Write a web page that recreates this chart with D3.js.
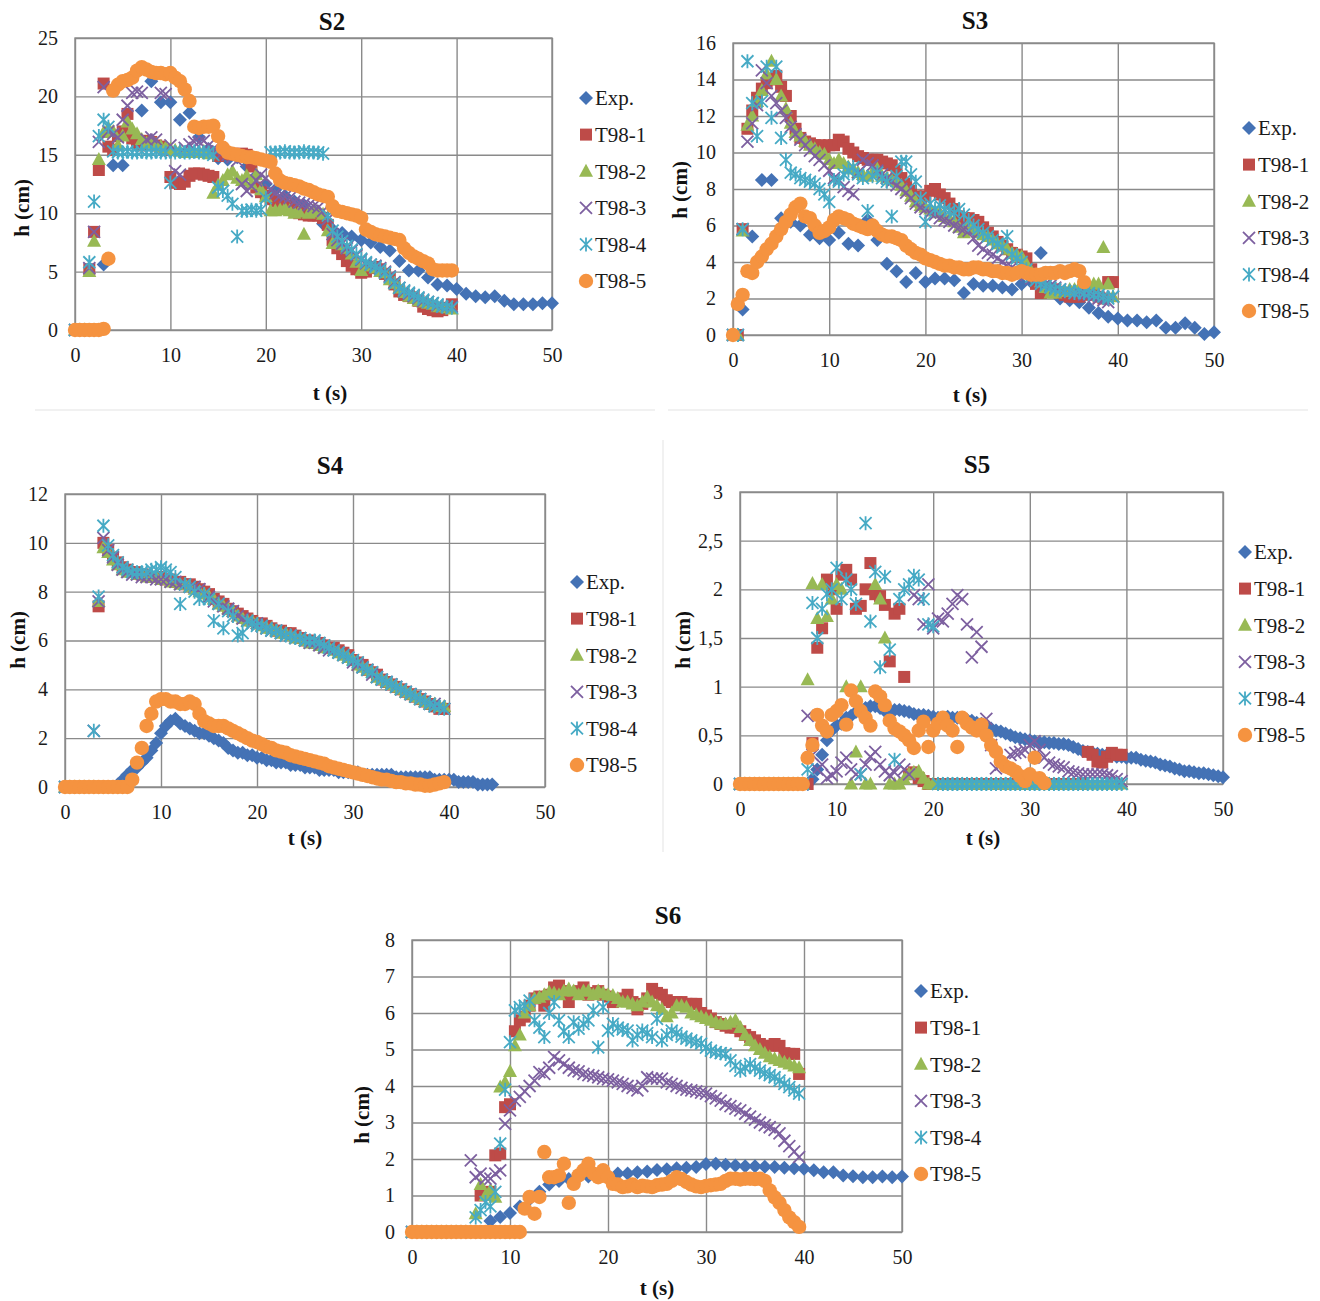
<!DOCTYPE html>
<html>
<head>
<meta charset="utf-8">
<script src="https://cdn.jsdelivr.net/npm/d3@7"></script>
<style>
  body { margin: 0; background: #fff; }
</style>
</head>
<body>
<svg id="chart" width="1320" height="1301"></svg>
<script>
/* global d3 */

// ---- data ----
const SERIES = ['Exp.', 'T98-1', 'T98-2', 'T98-3', 'T98-4', 'T98-5'];
const SHAPES = ['diamond', 'square', 'triangle', 'x', 'star', 'circle'];
const COLORS = ['#4472B5', '#BE4B48', '#98B954', '#7D60A0', '#46AAC5', '#F59340'];
const X_TICKS = [0, 10, 20, 30, 40, 50];
// sampling interval (s) of the measured and simulated records
const DT_EXP = 1;
const DT_SIM = 0.5;

// S2
const S2_EXP = [0,0,0,5.6,14.1,14.1,16.5,18.8,21.3,19.5,
  19.5,18.0,18.6,16.5,15.5,14.7,14.6,14.8,14.0,13.2,
  12.5,12.0,11.5,11.0,10.7,10.2,9.1,8.6,8.3,8.0,
  7.7,7.5,7.1,6.8,5.9,5.1,5.1,4.5,3.9,3.8,
  3.5,3.1,2.9,2.8,2.9,2.5,2.2,2.2,2.2,2.3,
  2.3];
const S2_T1 = [0,0,0,5.2,8.4,13.7,21.1,15.7,15.4,16.6,
  17.0,18.5,16.4,16.0,15.8,16.2,16.1,15.8,15.7,15.4,
  13.1,12.6,12.5,12.7,13.2,13.4,13.4,13.3,13.2,13.1,
  14.9,15.1,15.1,15.0,15.0,15.1,15.0,14.0,12.2,11.8,
  11.5,11.2,11.0,10.8,10.6,10.5,10.2,10.0,9.9,9.8,
  9.8,9.8,9.6,9.0,7.7,7.0,6.5,5.9,5.5,5.2,
  4.9,5.0,5.3,5.4,5.2,4.8,4.4,3.9,3.3,3.0,
  2.9,2.8,2.5,2.0,1.8,1.7,1.6,1.7,1.9,2.2];
const S2_T2 = [0,0,0,5.0,7.6,14.6,16.9,17.3,17.0,15.8,
  16.6,17.8,17.2,16.8,16.3,16.0,16.0,15.9,15.7,15.6,
  15.5,15.4,15.3,15.2,15.3,15.2,15.2,15.3,15.1,11.7,
  12.4,12.8,13.3,13.6,13.0,12.8,13.2,12.5,13.3,12.0,
  11.4,10.2,10.2,10.3,10.4,10.2,10.0,10.1,8.2,10.0,
  10.2,10.1,9.9,8.5,7.4,7.5,7.3,7.0,6.5,5.8,
  5.1,5.5,5.5,5.3,5.0,4.9,4.3,4.0,3.6,3.2,
  2.9,2.7,2.5,2.4,2.3,2.2,2.0,2.0,1.9,1.8];
const S2_T3 = [0,0,0,5.3,8.4,16.1,20.8,17.0,16.8,16.5,
  18.0,19.2,20.3,20.4,20.3,16.3,16.5,16.3,20.3,20.2,
  15.8,13.6,13.3,15.6,15.9,16.1,16.1,16.2,15.8,15.5,
  15.3,15.2,15.0,14.8,14.5,12.5,11.9,12.3,12.8,13.3,
  13.0,12.0,11.7,11.5,11.4,11.3,11.0,10.9,10.8,10.7,
  10.6,10.5,10.2,9.5,8.2,7.7,7.4,7.0,6.8,6.4,
  6.0,5.7,5.6,5.5,5.3,5.0,4.6,4.1,3.6,3.3,
  3.1,2.9,2.7,2.5,2.4,2.3,2.1,2.0,2.0,2.0];
const S2_T4 = [0,0,0,5.8,11.0,16.6,18.0,17.4,15.3,15.2,
  15.2,15.3,15.2,15.2,15.3,15.2,15.2,15.3,15.2,15.2,
  12.6,15.2,15.3,15.2,15.2,15.3,15.2,15.2,15.2,15.0,
  12.2,11.9,11.5,10.8,8.0,10.2,10.2,10.3,10.2,10.3,
  11.3,15.2,15.2,15.2,15.3,15.2,15.2,15.2,15.3,15.2,
  15.2,15.2,15.1,9.8,8.5,8.0,7.6,7.2,6.9,6.5,
  6.1,5.8,5.6,5.4,5.2,4.9,4.5,4.0,3.6,3.4,
  3.2,3.0,2.8,2.6,2.4,2.3,2.2,2.0,2.0,1.9];
const S2_T5 = [0,0,0,0,0,0,0.1,6.1,20.5,21.0,
  21.3,21.4,21.6,22.2,22.5,22.3,22.1,22.0,22.0,21.9,
  22.0,21.6,21.3,20.6,19.6,17.4,17.3,17.4,17.4,17.5,
  16.6,15.6,15.2,15.1,15.0,14.9,14.8,14.8,14.7,14.6,
  14.5,14.4,13.4,12.8,12.6,12.5,12.4,12.3,12.1,12.0,
  11.8,11.6,11.5,11.4,10.6,10.2,10.1,10.0,9.9,9.8,
  9.6,8.6,8.4,8.2,8.1,8.0,7.9,7.8,7.7,7.0,
  6.6,6.3,6.1,5.9,5.7,5.2,5.1,5.1,5.1,5.1];

// S3
const S3_EXP = [0,1.4,5.4,8.5,8.5,6.4,6.2,6.0,5.5,5.3,
  5.2,5.6,5.0,4.9,6.3,5.2,3.9,3.5,2.9,3.4,
  2.9,3.1,3.1,3.0,2.3,2.8,2.7,2.7,2.6,2.5,
  2.8,2.9,4.5,2.6,2.0,1.9,1.8,1.5,1.2,1.0,
  0.9,0.8,0.8,0.7,0.8,0.4,0.4,0.65,0.4,0.05,
  0.15];
const S3_T1 = [0,0,5.8,11.3,12.3,13.0,13.5,13.8,14.0,14.2,
  13.6,13.1,12.0,11.3,10.8,10.6,10.5,10.4,10.4,10.3,
  10.4,10.4,10.7,10.6,10.2,10.0,9.8,9.7,9.6,9.6,
  9.6,9.5,9.4,9.3,9.0,8.6,8.3,7.9,7.6,7.3,
  7.6,7.9,8.0,7.7,7.5,7.2,6.9,6.5,6.4,6.4,
  6.3,6.2,5.9,5.6,5.4,5.1,4.9,4.7,4.5,4.4,
  4.3,4.2,3.6,2.8,2.3,2.4,2.5,2.5,2.3,2.2,
  2.1,2.1,2.1,2.2,2.3,2.2,2.1,2.0,2.9,2.9];
const S3_T2 = [0,0,5.7,11.5,12.0,12.8,13.4,14.3,15.0,14.0,
  13.1,12.4,11.6,11.1,10.9,10.6,10.4,10.2,10.0,9.9,
  9.6,9.4,9.6,9.4,9.2,9.1,8.9,8.8,8.7,8.9,
  9.1,8.7,8.6,8.5,8.4,8.2,7.9,7.6,7.3,7.1,
  7.0,6.9,6.8,6.7,6.5,6.4,6.2,5.9,5.6,6.1,
  5.8,5.6,5.5,5.4,5.2,5.0,4.9,4.7,4.5,4.4,
  4.3,3.9,3.5,3.3,2.9,2.6,2.3,2.3,2.4,2.4,
  2.5,2.5,2.6,2.7,2.7,2.8,2.8,4.8,2.8,2.1];
const S3_T3 = [0,0,5.8,10.6,11.6,12.6,14.5,13.8,13.1,12.7,
  12.3,11.9,11.4,11.0,10.7,10.4,10.1,9.8,9.6,9.3,
  9.0,8.6,8.5,8.1,7.9,7.7,8.9,9.6,9.4,9.3,
  9.0,8.8,8.6,8.4,8.2,8.0,7.8,7.5,7.2,7.0,
  6.9,6.7,6.6,6.4,6.3,6.2,6.0,5.9,5.8,5.7,
  5.3,4.9,4.7,4.5,4.4,4.2,4.0,3.8,3.7,3.5,
  3.4,3.3,3.1,3.0,2.9,2.8,2.7,2.6,2.5,2.4,
  2.4,2.3,2.3,2.2,2.2,2.1,2.0,1.9,1.8,2.1];
const S3_T4 = [0,0,5.8,15.0,12.7,10.9,12.8,14.7,11.9,14.7,
  10.8,9.6,8.9,8.8,8.6,8.5,8.4,8.3,8.0,7.7,
  7.3,8.5,8.4,8.8,9.0,9.2,8.8,8.6,6.8,8.7,
  8.9,8.6,8.4,6.5,8.7,9.5,9.5,8.8,8.4,7.5,
  6.2,7.2,6.9,7.1,6.9,6.8,6.7,6.9,6.6,6.3,
  6.0,5.8,5.6,5.4,5.2,5.0,4.8,5.4,4.4,4.2,
  4.0,3.6,3.2,3.0,2.8,2.7,2.6,2.5,2.5,2.4,
  2.4,2.3,2.4,2.3,2.3,2.2,2.2,2.1,2.0,2.1];
const S3_T5 = [0,1.7,2.2,3.5,3.4,4.0,4.3,4.7,5.0,5.4,
  5.8,6.2,6.6,7.0,7.2,6.5,6.4,6.0,5.6,5.7,
  5.9,6.3,6.5,6.4,6.3,6.1,6.0,5.9,5.8,6.0,
  5.7,5.5,5.4,5.4,5.3,5.2,4.9,4.7,4.5,4.4,
  4.2,4.1,4.0,3.9,3.8,3.8,3.7,3.7,3.6,3.6,
  3.7,3.7,3.6,3.6,3.5,3.5,3.4,3.4,3.3,3.4,
  3.5,3.4,3.3,3.3,3.3,3.4,3.4,3.4,3.5,3.4,
  3.5,3.6,3.5,2.9];

// S4
const S4_EXP = [0,0,0,0,0,0,0,0,0,0,
  0,0.1,0.3,0.5,0.7,0.8,1.0,1.2,1.5,1.8,
  2.2,2.5,2.7,2.8,2.6,2.5,2.4,2.3,2.2,2.2,
  2.1,2.0,1.9,1.8,1.6,1.5,1.4,1.4,1.3,1.3,
  1.2,1.2,1.1,1.1,1.0,1.0,1.0,0.9,0.9,0.9,
  0.8,0.8,0.8,0.7,0.7,0.7,0.7,0.6,0.6,0.6,
  0.6,0.6,0.5,0.5,0.5,0.5,0.5,0.5,0.5,0.4,
  0.4,0.4,0.4,0.4,0.4,0.4,0.4,0.3,0.3,0.3,
  0.3,0.3,0.2,0.2,0.2,0.2,0.1,0.1,0.1,0.1];
const S4_T1 = [0,0,0,0,0,0,0,7.4,10.0,9.7,
  9.4,9.2,9.0,8.9,8.8,8.8,8.7,8.7,8.6,8.6,
  8.6,8.5,8.5,8.4,8.4,8.3,8.3,8.2,8.1,8.0,
  7.9,7.7,7.6,7.5,7.3,7.2,7.1,7.0,6.9,6.8,
  6.7,6.7,6.6,6.5,6.4,6.4,6.3,6.3,6.2,6.1,
  6.0,6.0,5.9,5.9,5.8,5.7,5.7,5.6,5.5,5.4,
  5.2,5.1,5.0,4.8,4.7,4.6,4.4,4.3,4.2,4.1,
  4.0,3.9,3.8,3.7,3.6,3.5,3.4,3.3,3.2,3.2];
const S4_T2 = [0,0,0,0,0,0,0,7.6,9.8,9.6,
  9.3,9.1,8.9,8.8,8.8,8.7,8.7,8.6,8.6,8.6,
  8.5,8.5,8.4,8.4,8.3,8.3,8.2,8.1,8.0,7.9,
  7.8,7.7,7.5,7.4,7.3,7.2,7.0,6.9,6.8,6.8,
  6.7,6.6,6.5,6.5,6.4,6.3,6.3,6.2,6.1,6.1,
  6.0,5.9,5.9,5.8,5.7,5.7,5.6,5.5,5.4,5.3,
  5.2,5.0,4.9,4.8,4.7,4.5,4.4,4.3,4.2,4.1,
  4.0,3.9,3.8,3.7,3.6,3.5,3.4,3.4,3.3,3.3];
const S4_T3 = [0,0,0,0,0,0,2.3,7.6,10.2,9.7,
  9.4,9.1,8.9,8.8,8.7,8.7,8.6,8.6,8.6,8.5,
  8.5,8.5,8.4,8.4,8.3,8.3,8.2,8.2,8.1,7.9,
  7.8,7.6,7.5,7.4,7.3,7.2,7.0,6.9,6.8,6.7,
  6.7,6.6,6.5,6.4,6.4,6.3,6.2,6.2,6.1,6.1,
  6.0,5.9,5.9,5.8,5.7,5.6,5.6,5.5,5.4,5.3,
  5.1,5.0,4.9,4.8,4.6,4.5,4.4,4.3,4.2,4.1,
  4.0,3.9,3.8,3.7,3.6,3.5,3.4,3.4,3.3,3.2];
const S4_T4 = [0,0,0,0,0,0,2.3,7.8,10.7,9.9,
  9.5,9.2,9.0,8.9,8.8,8.8,8.8,8.8,8.9,8.9,
  9.0,8.9,8.8,8.6,7.5,8.3,8.2,8.0,7.7,7.9,
  7.7,6.8,7.5,6.5,7.2,7.0,6.2,6.3,6.8,6.7,
  6.6,6.6,6.5,6.4,6.4,6.3,6.2,6.2,6.1,6.1,
  6.0,6.0,6.0,5.9,5.8,5.7,5.6,5.5,5.4,5.3,
  5.2,5.1,4.9,4.8,4.7,4.5,4.4,4.3,4.2,4.1,
  4.0,3.9,3.8,3.7,3.6,3.5,3.4,3.3,3.3,3.2];
const S4_T5 = [0,0,0,0,0,0,0,0,0,0,
  0,0,0,0,0.3,1.0,1.6,2.5,3.0,3.5,
  3.6,3.6,3.5,3.5,3.4,3.4,3.5,3.4,3.0,2.7,
  2.6,2.5,2.5,2.5,2.4,2.3,2.2,2.1,2.0,1.9,
  1.85,1.75,1.65,1.6,1.5,1.45,1.4,1.3,1.25,1.2,
  1.15,1.1,1.05,1.0,0.95,0.85,0.8,0.75,0.7,0.65,
  0.6,0.55,0.5,0.45,0.4,0.35,0.3,0.3,0.25,0.2,
  0.2,0.15,0.15,0.1,0.1,0.05,0.05,0.1,0.15,0.2];

// S5
const S5_EXP = [0,0,0,0,0,0,0,0,0,0,
  0,0,0,0,0,0.05,0.15,0.3,0.45,0.55,
  0.6,0.62,0.68,0.7,0.74,0.77,0.78,0.8,0.8,0.78,
  0.75,0.74,0.76,0.76,0.75,0.74,0.72,0.71,0.71,0.7,
  0.69,0.68,0.68,0.69,0.68,0.68,0.67,0.66,0.65,0.63,
  0.62,0.6,0.57,0.55,0.54,0.52,0.5,0.48,0.47,0.46,
  0.45,0.44,0.43,0.43,0.42,0.42,0.41,0.41,0.4,0.38,
  0.36,0.34,0.33,0.32,0.31,0.3,0.3,0.29,0.28,0.28,
  0.27,0.27,0.27,0.25,0.24,0.23,0.22,0.2,0.19,0.18,
  0.16,0.15,0.13,0.13,0.12,0.11,0.11,0.1,0.09,0.08,
  0.07];
const S5_T1 = [0,0,0,0,0,0,0,0,0,0,
  0,0,0,0,0,0.42,1.4,1.6,2.1,2.0,
  1.8,2.15,2.2,2.1,1.8,1.83,2.0,2.27,1.95,1.93,
  1.84,1.26,1.75,1.8,1.1,0.1,0.12,0.06,0.03,0,
  0,0,0,0,0,0,0,0,0,0,
  0,0,0,0,0,0,0,0,0,0,
  0,0,0,0,0,0,0,0,0,0,
  0,0,0.33,0.3,0.23,0.22,0.28,0.32,0.3,0.3];
const S5_T2 = [0,0,0,0,0,0,0,0,0,0,
  0,0,0,0,1.07,2.06,1.7,2.05,1.72,1.9,
  2.05,2.0,1.0,0,0.33,1.0,0,0,2.05,1.9,
  1.5,0,0,0,0.05,0.1,0.12,0.13,0.06,0,
  0,0,0,0,0,0,0,0,0,0,
  0,0,0,0,0,0,0,0,0,0,
  0,0,0,0,0,0,0,0,0,0,
  0,0,0,0,0,0,0,0,0,0];
const S5_T3 = [0,0,0,0,0,0,0,0,0,0,
  0,0,0,0,0.7,0.3,0.15,0.2,0.06,0.09,
  0.13,0.22,0.27,0.15,0.1,0.1,0.2,0.28,0.33,0.2,
  0.13,0.09,0.12,0.2,0.15,0.1,1.94,1.9,1.64,2.05,
  1.6,1.7,1.67,1.75,1.85,1.94,1.9,1.64,1.3,1.56,
  1.41,0.67,0.4,0.16,0.2,0.25,0.3,0.32,0.33,0.35,
  0.4,0.44,0.35,0.27,0.22,0.2,0.18,0.17,0.13,0.12,
  0.11,0.1,0.1,0.1,0.1,0.1,0.09,0.08,0.05,0.03];
const S5_T4 = [0,0,0,0,0,0,0,0,0,0,
  0,0,0,0,0.15,1.86,1.5,1.8,1.95,2.0,
  2.22,1.9,2.1,2.0,1.85,0.1,2.68,1.67,2.18,1.2,
  2.13,1.38,0.25,1.9,2.0,2.05,2.14,2.1,1.9,1.64,
  1.62,0,0,0,0,0,0,0,0,0,
  0,0,0,0,0,0,0,0,0,0,
  0,0,0,0,0,0,0,0,0,0,
  0,0,0,0,0,0,0,0,0,0];
const S5_T5 = [0,0,0,0,0,0,0,0,0,0,
  0,0,0,0,0.27,0.4,0.71,0.6,0.54,0.71,
  0.75,0.81,0.61,0.96,0.85,0.75,0.68,0.6,0.95,0.9,
  0.81,0.65,0.57,0.54,0.5,0.45,0.37,0.55,0.64,0.38,
  0.55,0.62,0.68,0.6,0.55,0.38,0.68,0.62,0.58,0.55,
  0.61,0.5,0.4,0.33,0.23,0.18,0.16,0.13,0.08,0.03,
  0.1,0.27,0.06,0.01];

// S6
const S6_EXP = [0,0,0,0,0,0,0,0,0.3,0.41,
  0.52,0.7,0.9,1.1,1.3,1.4,1.45,1.5,1.52,1.55,
  1.55,1.6,1.6,1.64,1.66,1.7,1.72,1.75,1.76,1.78,
  1.86,1.87,1.84,1.82,1.8,1.8,1.79,1.78,1.76,1.75,
  1.73,1.69,1.64,1.64,1.55,1.53,1.5,1.5,1.52,1.5,
  1.52];
const S6_T1 = [0,0,0,0,0,0,0,0,0,0,
  0,0,0,0,1.0,1.05,1.1,2.1,2.15,3.42,
  3.5,5.5,5.8,5.9,6.2,6.4,6.45,6.2,6.5,6.7,
  6.75,6.6,6.3,6.55,6.6,6.7,6.5,6.55,6.6,6.5,
  6.45,6.3,6.35,6.4,6.5,6.3,6.1,6.25,6.4,6.66,
  6.55,6.5,6.35,6.3,6.3,6.3,6.25,6.25,6.25,6.0,
  5.93,5.85,5.75,5.7,5.65,5.6,5.6,5.5,5.4,5.34,
  5.25,5.15,5.1,5.1,5.15,5.1,4.9,4.88,4.88,4.33];
const S6_T2 = [0,0,0,0,0,0,0,0,0,0,
  0,0,0,0.5,1.3,1.0,1.15,0.95,3.97,4.1,
  4.4,5.1,5.4,6.0,6.2,6.4,6.43,6.5,6.57,6.55,
  6.5,6.6,6.66,6.6,6.5,6.6,6.6,6.5,6.6,6.55,
  6.5,6.48,6.4,6.3,6.3,6.25,6.2,6.3,6.43,6.3,
  6.2,6.1,5.9,6.0,6.2,6.2,6.16,6.0,5.95,5.9,
  5.85,5.8,5.75,5.7,5.7,5.75,5.8,5.6,5.4,5.25,
  5.1,5.0,4.9,4.8,4.75,4.7,4.65,4.6,4.55,4.5];
const S6_T3 = [0,0,0,0,0,0,0,0,0,0,
  0,0,1.96,1.5,1.6,1.46,1.46,1.6,1.69,2.96,
  3.33,3.6,3.7,3.85,4.0,4.15,4.38,4.33,4.5,4.8,
  4.7,4.6,4.5,4.43,4.4,4.33,4.3,4.28,4.24,4.2,
  4.18,4.15,4.1,4.06,4.0,3.95,3.88,4.0,4.24,4.2,
  4.2,4.2,4.1,4.06,4.0,3.95,3.9,3.88,3.85,3.82,
  3.79,3.72,3.66,3.6,3.5,3.45,3.38,3.33,3.24,3.16,
  3.08,3.0,2.93,2.87,2.8,2.7,2.5,2.35,2.2,2.05];
const S6_T4 = [0,0,0,0,0,0,0,0,0,0,
  0,0,0,0.4,0.6,0.82,0.7,1.1,2.42,3.9,
  5.2,6.07,6.16,6.2,6.34,5.8,5.6,5.34,6.0,6.3,
  5.8,5.5,5.34,5.75,5.57,5.7,5.8,6.07,5.06,6.16,
  5.52,5.7,5.6,5.55,5.52,5.25,5.4,5.52,5.45,5.34,
  5.84,5.25,5.4,5.52,5.45,5.35,5.3,5.25,5.2,5.16,
  5.05,4.97,4.93,4.9,4.88,4.7,4.55,4.42,4.5,4.6,
  4.5,4.42,4.35,4.3,4.24,4.15,4.06,3.97,3.88,3.79];
const S6_T5 = [0,0,0,0,0,0,0,0,0,0,
  0,0,0,0,0,0,0,0,0,0,
  0,0,0,0.64,0.96,0.5,0.96,2.19,1.5,1.5,
  1.55,1.87,0.8,1.32,1.55,1.69,1.87,1.6,1.5,1.69,
  1.5,1.32,1.3,1.23,1.25,1.3,1.23,1.27,1.25,1.23,
  1.28,1.3,1.32,1.4,1.5,1.45,1.37,1.3,1.25,1.23,
  1.26,1.28,1.3,1.32,1.4,1.46,1.46,1.44,1.46,1.46,
  1.45,1.46,1.4,1.14,0.95,0.8,0.6,0.4,0.27,0.14];

// ---- layout ----
const panels = [
  { title: 'S2', series: [S2_EXP, S2_T1, S2_T2, S2_T3, S2_T4, S2_T5], yMax: 25, yStep: 5,
    l: 75, r: 552, t: 38, b: 330, titleX: 332, titleY: 30, tX: 330, tY: 400, hX: 22, hY: 208, legX: 586, legY: 98 },
  { title: 'S3', series: [S3_EXP, S3_T1, S3_T2, S3_T3, S3_T4, S3_T5], yMax: 16, yStep: 2,
    l: 733, r: 1214, t: 43, b: 335, titleX: 975, titleY: 29, tX: 970, tY: 402, hX: 680, hY: 190, legX: 1249, legY: 128 },
  { title: 'S4', series: [S4_EXP, S4_T1, S4_T2, S4_T3, S4_T4, S4_T5], yMax: 12, yStep: 2,
    l: 65, r: 545, t: 494, b: 787, titleX: 330, titleY: 474, tX: 305, tY: 845, hX: 18, hY: 640, legX: 577, legY: 582 },
  { title: 'S5', series: [S5_EXP, S5_T1, S5_T2, S5_T3, S5_T4, S5_T5], yMax: 3, yStep: 0.5,
    l: 740, r: 1223, t: 492, b: 784, titleX: 977, titleY: 473, tX: 983, tY: 845, hX: 683, hY: 640, legX: 1245, legY: 552 },
  { title: 'S6', series: [S6_EXP, S6_T1, S6_T2, S6_T3, S6_T4, S6_T5], yMax: 8, yStep: 1,
    l: 412, r: 902, t: 940, b: 1232, titleX: 668, titleY: 924, tX: 657, tY: 1295, hX: 362, hY: 1115, legX: 921, legY: 991 }
];

const FONT = '"Liberation Serif", "Times New Roman", serif';
const GRID = '#8a8a8a';
const svg = d3.select('#chart');

// faint panel separators
svg.append('g').attr('stroke', '#ececec').attr('stroke-width', 1.5)
  .selectAll('line').data([[35, 410, 655, 410], [668, 410, 1308, 410], [663, 440, 663, 852]])
  .join('line')
  .attr('x1', d => d[0]).attr('y1', d => d[1]).attr('x2', d => d[2]).attr('y2', d => d[3]);

function markerPath(shape) {
  const p = d3.path();
  if (shape === 'diamond') { p.moveTo(0, -7); p.lineTo(7, 0); p.lineTo(0, 7); p.lineTo(-7, 0); p.closePath(); }
  else if (shape === 'square') { p.rect(-6, -6, 12, 12); }
  else if (shape === 'triangle') { p.moveTo(0, -7.5); p.lineTo(7, 5.5); p.lineTo(-7, 5.5); p.closePath(); }
  else if (shape === 'x') { p.moveTo(-6, -6); p.lineTo(6, 6); p.moveTo(-6, 6); p.lineTo(6, -6); }
  else if (shape === 'star') { p.moveTo(-6, -6); p.lineTo(6, 6); p.moveTo(-6, 6); p.lineTo(6, -6); p.moveTo(0, -7); p.lineTo(0, 7); }
  else { p.arc(0, 0, 7.2, 0, 2 * Math.PI); }
  return p.toString();
}

function styleMarker(sel, i) {
  const stroked = SHAPES[i] === 'x' || SHAPES[i] === 'star';
  sel.attr('d', markerPath(SHAPES[i]))
    .attr('fill', stroked ? 'none' : COLORS[i])
    .attr('stroke', stroked ? COLORS[i] : 'none')
    .attr('stroke-width', stroked ? 1.8 : 0);
}

function drawPanel(p) {
  const x = d3.scaleLinear().domain([0, 50]).range([p.l, p.r]);
  const y = d3.scaleLinear().domain([0, p.yMax]).range([p.b, p.t]);
  const yTicks = d3.range(0, p.yMax + p.yStep / 2, p.yStep);
  const g = svg.append('g');

  const xa = g.append('g').attr('transform', `translate(0,${p.b})`)
    .call(d3.axisBottom(x).tickValues(X_TICKS).tickSize(-(p.b - p.t)).tickPadding(18).tickFormat(d3.format('d')));
  const ya = g.append('g').attr('transform', `translate(${p.l},0)`)
    .call(d3.axisLeft(y).tickValues(yTicks).tickSize(-(p.r - p.l)).tickPadding(17)
      .tickFormat(d => String(+d.toFixed(1)).replace('.', ',')));
  [xa, ya].forEach(a => {
    a.select('.domain').remove();
    a.selectAll('.tick line').attr('stroke', GRID).attr('stroke-width', 1.4);
    a.selectAll('.tick text').attr('fill', '#1a1a1a').attr('font-size', 20).attr('font-family', FONT);
  });
  g.append('rect').attr('x', p.l).attr('y', p.t).attr('width', p.r - p.l).attr('height', p.b - p.t)
    .attr('fill', 'none').attr('stroke', GRID).attr('stroke-width', 1.4);

  // series, drawn in legend order so T98-5 lies on top
  p.series.forEach((vals, i) => {
    const dt = i === 0 && vals.length === 51 ? DT_EXP : DT_SIM;
    g.append('g').selectAll('path').data(vals).join('path')
      .attr('transform', (v, k) => `translate(${x(k * dt)},${y(v)})`)
      .call(styleMarker, i);
  });

  g.append('text').attr('x', p.titleX).attr('y', p.titleY).attr('text-anchor', 'middle')
    .attr('font-family', FONT).attr('font-size', 25).attr('font-weight', 700).attr('fill', '#111').text(p.title);
  g.append('text').attr('x', p.tX).attr('y', p.tY).attr('text-anchor', 'middle')
    .attr('font-family', FONT).attr('font-size', 21).attr('font-weight', 700).attr('fill', '#111').text('t (s)');
  g.append('text').attr('transform', `translate(${p.hX},${p.hY}) rotate(-90)`).attr('dy', '0.35em')
    .attr('text-anchor', 'middle').attr('font-family', FONT).attr('font-size', 21).attr('font-weight', 700)
    .attr('fill', '#111').text('h (cm)');

  const leg = g.append('g').attr('transform', `translate(${p.legX},${p.legY})`);
  SERIES.forEach((name, i) => {
    const row = leg.append('g').attr('transform', `translate(0,${i * 36.6})`);
    row.append('path').call(styleMarker, i);
    row.append('text').attr('x', 9).attr('dy', '0.35em').attr('font-family', FONT).attr('font-size', 21)
      .attr('fill', '#1a1a1a').text(name);
  });
}

panels.forEach(drawPanel);
</script>
</body>
</html>
